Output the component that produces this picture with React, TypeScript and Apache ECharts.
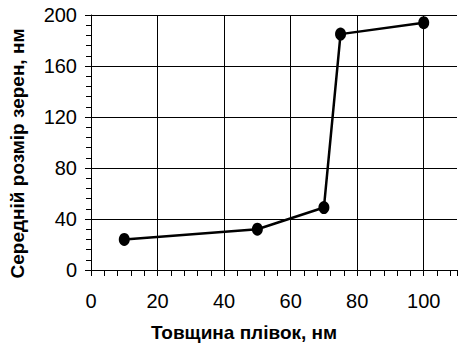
import React, { useEffect, useRef } from "react";
import * as echarts from "echarts";

const thickness = [10, 50, 70, 75, 100];
const grainSize = [24, 32, 49, 185, 194];
const xTitle = "Товщина плівок, нм";
const yTitle = "Середній розмір зерен, нм";

export default function App() {
  const ref = useRef<HTMLDivElement>(null);
  useEffect(() => {
    if (!ref.current) return;
    const chart = echarts.init(ref.current, null, { renderer: "svg" });
    const font = "'Liberation Sans', Arial, sans-serif";
    chart.setOption({
      animation: false,
      backgroundColor: "#fff",
      grid: { left: 91, right: 2, top: 15, bottom: 77, containLabel: false, outerBoundsMode: "none" },
      xAxis: [
        {
          type: "value",
          min: 0,
          max: 110,
          interval: 20,
          name: xTitle,
          nameLocation: "middle",
          nameGap: 53,
          nameTextStyle: {
            fontFamily: font,
            fontWeight: "bold",
            fontSize: 19,
            color: "#000",
            padding: [0, 60, 0, 0],
          },
          axisLine: { show: true, lineStyle: { color: "#000", width: 1 } },
          axisTick: { show: false },
          axisLabel: {
            margin: 21,
            fontFamily: font,
            fontSize: 20,
            color: "#000",
            showMaxLabel: false,
            formatter: (v: number) => (v > 100 ? "" : String(v)),
          },
          splitLine: {
            show: true,
            lineStyle: {
              color: ["#000", "#000", "#000", "#000", "#000", "#000", "transparent"],
              width: 1,
            },
          },
        },
        {
          type: "value",
          min: 0,
          max: 110,
          interval: 4,
          position: "bottom",
          axisLine: { show: false },
          axisTick: { show: true, length: 6, lineStyle: { color: "#000" } },
          axisLabel: { show: false },
          splitLine: { show: false },
        },
      ],
      yAxis: {
        type: "value",
        min: 0,
        max: 200,
        interval: 40,
        name: yTitle,
        nameLocation: "middle",
        nameGap: 64,
        nameTextStyle: {
          fontFamily: font,
          fontWeight: "bold",
          fontSize: 19,
          color: "#000",
          padding: [0, 22, 0, 0],
        },
        axisLine: { show: true, lineStyle: { color: "#000", width: 1 } },
        axisTick: { show: true, length: 6, lineStyle: { color: "#000" } },
        minorTick: { show: true, splitNumber: 5, length: 5, lineStyle: { color: "#000" } },
        axisLabel: { margin: 14, fontFamily: font, fontSize: 20, color: "#000" },
        splitLine: { show: true, lineStyle: { color: "#000", width: 1 } },
      },
      series: [
        {
          type: "line",
          xAxisIndex: 0,
          data: thickness.map((x, i) => [x, grainSize[i]]),
          symbol: "circle",
          symbolSize: [11, 13],
          lineStyle: { color: "#000", width: 2.5 },
          itemStyle: { color: "#000" },
        },
      ],
    });
    return () => chart.dispose();
  }, []);
  return <div ref={ref} style={{ width: 459, height: 347, position: "absolute", left: 0, top: 0 }} />;
}
